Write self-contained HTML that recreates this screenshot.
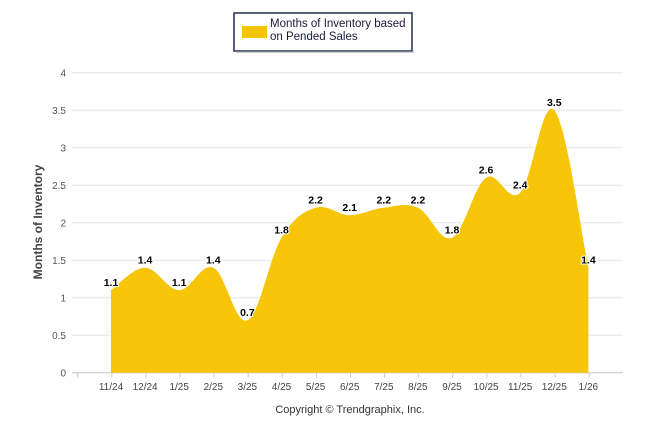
<!DOCTYPE html>
<html><head><meta charset="utf-8"><style>
body{margin:0;background:#fff;width:646px;height:434px;overflow:hidden;font-family:"Liberation Sans",sans-serif}
</style></head><body>
<svg id="chart" width="646" height="434" xmlns="http://www.w3.org/2000/svg" font-family="Liberation Sans, sans-serif">
<g>
<rect x="234" y="13" width="178" height="38" fill="#fff" stroke="#1f2d4f" stroke-width="1.5"/>
<rect x="236" y="51" width="178" height="2" fill="#999" opacity="0.5"/>
<rect x="242" y="26" width="25" height="12" fill="#f6c50a"/>
<text x="270" y="27" font-size="11.5" fill="#1a1a3a">Months of Inventory based</text>
<text x="270" y="40" font-size="11.5" fill="#1a1a3a">on Pended Sales</text>
</g>
<g id="grid"></g>
<g id="series"></g>
<g id="labels"></g>
<text transform="translate(42,222) rotate(-90)" text-anchor="middle" font-size="12" font-weight="bold" fill="#444">Months of Inventory</text>
<text x="350" y="413" text-anchor="middle" font-size="11" fill="#333">Copyright © Trendgraphix, Inc.</text>
</svg>
<script>
const categories=["11/24","12/24","1/25","2/25","3/25","4/25","5/25","6/25","7/25","8/25","9/25","10/25","11/25","12/25","1/26"];
const values=[1.1,1.4,1.1,1.4,0.7,1.8,2.2,2.1,2.2,2.2,1.8,2.6,2.4,3.5,1.4];
const yTicks=[0,0.5,1,1.5,2,2.5,3,3.5,4];
const NS="http://www.w3.org/2000/svg";
const left=77,step=34.1,y0=372.7,pxPerUnit=75;
const xs=i=>left+step*(i+1)-0.1;
const ys=v=>y0-v*pxPerUnit;
function mk(tag,attrs,parent){const e=document.createElementNS(NS,tag);for(const k in attrs)e.setAttribute(k,attrs[k]);parent.appendChild(e);return e;}
const grid=document.getElementById('grid');
yTicks.forEach(t=>{
  const l=mk('line',{x1:72,x2:623,y1:ys(t),y2:ys(t),stroke:'#e6e6e6'},grid);
  
  
  const tx=mk('text',{x:66,y:ys(t)+4,'text-anchor':'end','font-size':'10',fill:'#555'},grid);
  tx.textContent=t;
  
  
});
mk('line',{x1:72,x2:623,y1:y0,y2:y0,stroke:'#ccc'},grid);
for(let i=0;i<=categories.length;i++){mk('line',{x1:left+step*i+0.7,x2:left+step*i+0.7,y1:y0,y2:y0+5,stroke:'#ccc'},grid);}
categories.forEach((c,i)=>{
  const t=mk('text',{x:xs(i),y:390,'text-anchor':'middle','font-size':'10',fill:'#444'},grid);
  t.textContent=c;
  
  
});
const pts=values.map((v,i)=>[xs(i),ys(v)]);
let d=`M${pts[0][0]},${y0}L${pts[0][0]},${pts[0][1]}`;
const k=0.18;
for(let i=0;i<pts.length-1;i++){
  const p0=pts[i],p1=pts[i+1];
  const pm=pts[i-1]||p0,pn=pts[i+2]||p1;
  const c1=[p0[0]+(p1[0]-pm[0])*k,p0[1]+(p1[1]-pm[1])*k];
  const c2=[p1[0]-(pn[0]-p0[0])*k,p1[1]-(pn[1]-p0[1])*k];
  d+=`C${c1[0]},${c1[1]} ${c2[0]},${c2[1]} ${p1[0]},${p1[1]}`;
}
d+=`L${pts[pts.length-1][0]},${y0}Z`;
const area=mk('path',{d:d,fill:'#f7c507'},document.getElementById('series'));


const lab=document.getElementById('labels');
values.forEach((v,i)=>{
  const t=mk('text',{x:xs(i),y:ys(v)-4,'text-anchor':'middle','font-size':'10.5','font-weight':'bold',fill:'#000',stroke:'#fff','stroke-width':'2','paint-order':'stroke'},lab);
  t.textContent=v;
  
  
});
</script>
</body></html>
